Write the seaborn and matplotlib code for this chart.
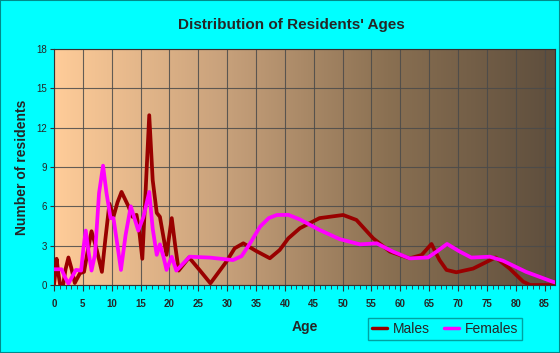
import numpy as np
import pandas as pd
import seaborn as sns
import matplotlib
matplotlib.use("Agg")
import matplotlib.pyplot as plt
from matplotlib.colors import LinearSegmentedColormap
from matplotlib.ticker import MultipleLocator
from matplotlib.patches import Rectangle

# values
male_ages = [0, 0.25, 0.45, 0.75, 1.05, 1.6, 2.0, 2.5, 3.0, 3.6, 4.5, 5.2, 5.8, 6.5, 7.4, 8.3,
             8.9, 9.6, 10.3, 11.0, 11.7, 12.9, 13.6, 14.3, 14.8, 15.3, 15.8, 16.5, 17.1, 17.8,
             18.35, 19.5, 20.4, 21.0, 21.6, 22.5, 23.4, 25.3, 27.1, 29.9, 31.3, 32.8, 35.0,
             37.4, 39.1, 40.6, 42.6, 46.0, 50.1, 52.4, 55.3, 58.2, 61.6, 63.7, 65.4, 66.8,
             68.0, 69.7, 72.6, 76.5, 78.9, 81.3, 82.5, 86.8]
male_counts = [0, 1.0, 2.0, 0.9, 0.05, 0.05, 1.2, 2.1, 1.3, 0.15, 0.9, 1.0, 2.5, 4.1, 2.7, 1.0,
               3.5, 6.2, 5.2, 6.3, 7.1, 6.0, 5.2, 5.35, 4.0, 2.0, 6.5, 12.95, 8.0, 5.5,
               5.2, 2.3, 5.1, 3.0, 1.1, 1.6, 2.1, 1.1, 0.13, 1.8, 2.8, 3.18, 2.6,
               2.04, 2.67, 3.56, 4.33, 5.1, 5.34, 4.96, 3.56, 2.55, 2.03, 2.29, 3.13, 1.9,
               1.15, 0.97, 1.25, 2.1, 1.27, 0.25, 0.0, 0.0]

female_ages = [0, 1.3, 1.9, 2.5, 3.1, 3.8, 4.7, 5.1, 5.5, 6.0, 6.5, 7.1, 7.8, 8.5, 9.1, 9.8,
               10.3, 11.0, 11.6, 12.4, 13.3, 14.6, 15.5, 16.5, 17.1, 17.8, 18.35, 19.0, 19.5,
               20.4, 21.2, 22.3, 23.5, 27.0, 31.0, 32.5, 34.0, 35.7, 37.2, 38.6, 40.6, 42.6,
               46.0, 49.5, 53.0, 55.9, 58.7, 61.6, 64.8, 66.3, 68.1, 70.3, 72.3, 75.5, 77.8,
               81.8, 86.4, 86.8]
female_counts = [1.2, 1.2, 0.6, 0.1, 0.6, 1.15, 1.1, 2.8, 4.15, 2.5, 1.1, 2.3, 7.0, 9.1, 7.0, 5.1,
                 5.1, 3.0, 1.15, 3.8, 6.0, 4.15, 5.2, 7.1, 4.3, 2.3, 3.1, 2.1, 1.15,
                 2.15, 1.1, 1.6, 2.16, 2.09, 1.9, 2.2, 3.2, 4.45, 5.1, 5.34, 5.35, 5.0,
                 4.2, 3.5, 3.1, 3.18, 2.55, 2.03, 2.1, 2.55, 3.13, 2.55, 2.09, 2.16, 1.85,
                 1.0, 0.25, 0.2]

x_ticks = list(range(0, 90, 5))
y_ticks = [0, 3, 6, 9, 12, 15, 18]

df = pd.concat([
    pd.DataFrame({"Age": male_ages, "Count": male_counts, "Sex": "Males"}),
    pd.DataFrame({"Age": female_ages, "Count": female_counts, "Sex": "Females"}),
])

sns.set_style("white")
plt.rcParams["font.family"] = ["Liberation Sans", "DejaVu Sans"]

fig = plt.figure(figsize=(5.6, 3.53), dpi=100, facecolor="#00ffff")
ax = fig.add_axes([54 / 560, 1 - 285 / 353, 501 / 560, 236 / 353])

# gradient background
grad = LinearSegmentedColormap.from_list("bg", ["#ffcc99", "#c9a27c", "#8a7052", "#5e4e3d"])
ax.imshow(np.linspace(0, 1, 256).reshape(1, -1), cmap=grad, aspect="auto",
          extent=[0, 86.8, 0, 18], zorder=0)

sns.lineplot(data=df, x="Age", y="Count", hue="Sex", estimator=None, sort=True,
             palette={"Males": "#990000", "Females": "#ff00ff"}, linewidth=2.7,
             ax=ax, zorder=3)

ax.set_xlim(0, 86.8)
ax.set_ylim(0, 18)
ax.set_xticks(x_ticks)
ax.set_yticks(y_ticks)
ax.xaxis.set_minor_locator(MultipleLocator(1))
ax.grid(True, which="major", color="#4a4a4a", linewidth=0.8, alpha=0.85)
ax.tick_params(axis="x", which="major", direction="out", length=4, color="#333333",
               labelsize=7, pad=6, bottom=True)
ax.tick_params(axis="x", which="minor", direction="out", length=3, color="#333333", bottom=True)
ax.tick_params(axis="y", which="major", direction="out", length=3, color="#333333",
               labelsize=7, pad=2, left=True)
for lab in ax.get_xticklabels():
    lab.set_fontweight("bold")
for s in ax.spines.values():
    s.set_color("#333333")
    s.set_linewidth(0.8)

ax.set_xlabel("Age", fontsize=10, fontweight="bold", labelpad=8)
ax.set_ylabel("Number of residents", fontsize=10, fontweight="bold", labelpad=5)
fig.text(0.521, 1 - 25 / 353, "Distribution of Residents' Ages", ha="center", va="center",
         fontsize=11, fontweight="bold")

leg = ax.legend(title=None, loc="upper left", bbox_to_anchor=(368 / 560, 1 - 318 / 353),
                bbox_transform=fig.transFigure, ncol=2, frameon=True, fancybox=False,
                fontsize=10, handlelength=1.1, handletextpad=0.4, columnspacing=1.0,
                borderpad=0.3, borderaxespad=0, edgecolor="#008b8b", facecolor="#00ffff")
leg.get_frame().set_linewidth(1.0)
for h in leg.get_lines():
    h.set_linewidth(2.5)

fig.patches.append(Rectangle((0, 0), 1, 1, transform=fig.transFigure, fill=False,
                             edgecolor="#008b8b", linewidth=1.5))

fig.savefig("out.png", dpi=100, facecolor="#00ffff")
